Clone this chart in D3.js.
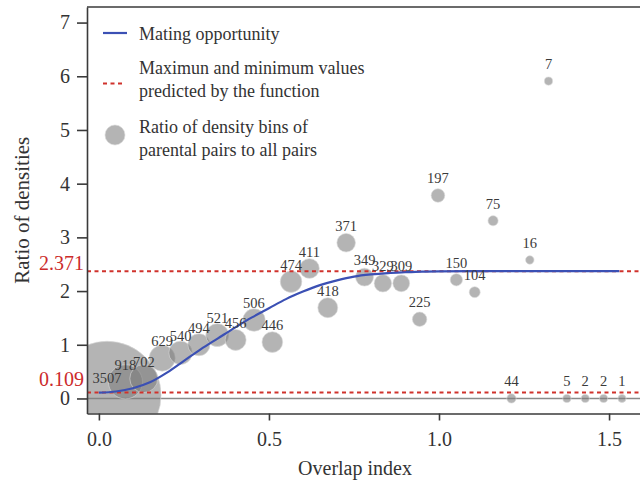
<!DOCTYPE html>
<html>
<head>
<meta charset="utf-8">
<script src="https://cdn.jsdelivr.net/npm/d3@7"></script>
<style>
  html, body { margin: 0; padding: 0; background: #fff; }
  svg { display: block; }
  text { font-family: "Liberation Serif", "Times New Roman", serif; }
</style>
</head>
<body>
<script>
// ---- data ----
const binOverlap = [0.024, 0.078, 0.132, 0.186, 0.240, 0.294, 0.348, 0.402, 0.456, 0.510,
  0.565, 0.619, 0.673, 0.727, 0.781, 0.835, 0.889, 0.943, 0.997, 1.051,
  1.105, 1.159, 1.213, 1.267, 1.322, 1.376, 1.430, 1.484, 1.538];
const binRatio = [0.06, 0.31, 0.37, 0.75, 0.85, 1.00, 1.18, 1.09, 1.46, 1.05,
  2.175, 2.42, 1.69, 2.90, 2.26, 2.145, 2.145, 1.475, 3.78, 2.21,
  1.98, 3.31, 0.0, 2.58, 5.91, 0.0, 0.0, 0.0, 0.0];
const binCount = [3507, 918, 702, 629, 540, 494, 521, 456, 506, 446,
  474, 411, 418, 371, 349, 329, 309, 225, 197, 150,
  104, 75, 44, 16, 7, 5, 2, 2, 1];

const curveX = [0.00, 0.05, 0.10, 0.15, 0.20, 0.25, 0.30, 0.35, 0.40, 0.45, 0.50, 0.55,
  0.60, 0.65, 0.70, 0.75, 0.80, 0.85, 0.90, 0.95, 1.00, 1.10, 1.20, 1.53];
const curveY = [0.109, 0.13, 0.19, 0.30, 0.48, 0.70, 0.92, 1.12, 1.32, 1.51, 1.68, 1.85,
  1.99, 2.11, 2.20, 2.27, 2.31, 2.335, 2.35, 2.362, 2.367, 2.370, 2.371, 2.371];

const maxValue = 2.371;
const minValue = 0.109;

const xTicks = [0, 0.5, 1.0, 1.5];
const yTicks = [0, 1, 2, 3, 4, 5, 6, 7];

const legendLabels = [
  ["Mating opportunity"],
  ["Maximun and minimum values", "predicted by the function"],
  ["Ratio of density bins of", "parental pairs to all pairs"]
];
const xTitle = "Overlap index";
const yTitle = "Ratio of densities";

// ---- drawing ----
const W = 640, H = 483;
const L = 87, R = 640, T = 7, B = 413.5;

const svg = d3.select("body").append("svg").attr("width", W).attr("height", H);

const x = d3.scaleLinear().domain([-0.035, 1.591]).range([L, R]);
const y = d3.scaleLinear().domain([-0.28, 7.29]).range([B, T]);
const rScale = d3.scaleLinear().domain([1, 3507]).range([4, 54]);

svg.append("defs").append("clipPath").attr("id", "plotclip")
  .append("rect").attr("x", L).attr("y", T).attr("width", R - L + 20).attr("height", B - T);

const plot = svg.append("g").attr("clip-path", "url(#plotclip)");

// zero reference line
plot.append("line")
  .attr("x1", L).attr("x2", R + 10)
  .attr("y1", y(0)).attr("y2", y(0))
  .attr("stroke", "#8a8a8a").attr("stroke-width", 1.6);

const points = binOverlap.map((v, i) => ({ x: v, y: binRatio[i], n: binCount[i] }));

// bubbles
plot.append("g").selectAll("circle").data(points).join("circle")
  .attr("cx", d => x(d.x)).attr("cy", d => y(d.y)).attr("r", d => rScale(d.n))
  .attr("fill", "#7d7d7d").attr("fill-opacity", 0.58)
  .attr("stroke", "#d8d8d8").attr("stroke-opacity", 0.6).attr("stroke-width", 1);

// dashed max/min lines
[maxValue, minValue].forEach(v => {
  plot.append("line")
    .attr("x1", L).attr("x2", R + 10)
    .attr("y1", y(v)).attr("y2", y(v))
    .attr("stroke", "#d0322c").attr("stroke-width", 2)
    .attr("stroke-dasharray", "4,3.5");
});

// fitted curve
const line = d3.line().x(d => x(d[0])).y(d => y(d[1])).curve(d3.curveMonotoneX);
plot.append("path")
  .datum(curveX.map((v, i) => [v, curveY[i]]))
  .attr("d", line)
  .attr("fill", "none").attr("stroke", "#3b50b4").attr("stroke-width", 2.2);

// point labels
svg.append("g").selectAll("text").data(points).join("text")
  .attr("x", d => x(d.x)).attr("y", d => y(d.y) - 12)
  .attr("text-anchor", "middle")
  .attr("font-size", 14.5).attr("fill", "#3a3a3a")
  .text(d => d.n);

// axes
const yAxis = svg.append("g").attr("transform", `translate(${L},0)`)
  .call(d3.axisLeft(y).tickValues(yTicks).tickFormat(d3.format("d")).tickSize(10).tickSizeOuter(0).tickPadding(7));
const xAxis = svg.append("g").attr("transform", `translate(0,${B})`)
  .call(d3.axisBottom(x).tickValues(xTicks).tickFormat(d3.format(".1f")).tickSize(7).tickSizeOuter(0).tickPadding(11));
[yAxis, xAxis].forEach(a => {
  a.selectAll("path.domain").attr("stroke", "#3a3a3a").attr("stroke-width", 1.6);
  a.selectAll(".tick line").attr("stroke", "#3a3a3a").attr("stroke-width", 1.6);
  a.selectAll(".tick text").attr("font-size", 20).attr("fill", "#333")
    .attr("font-family", "Liberation Serif, serif");
});
// top border
svg.append("line").attr("x1", L).attr("x2", R).attr("y1", T).attr("y2", T)
  .attr("stroke", "#3a3a3a").attr("stroke-width", 1.6);

// red value annotations
svg.append("text").attr("x", 84).attr("y", y(maxValue) - 1)
  .attr("text-anchor", "end").attr("font-size", 20).attr("fill", "#cc2b2b")
  .text(maxValue.toFixed(3));
svg.append("text").attr("x", 84).attr("y", y(minValue) - 7)
  .attr("text-anchor", "end").attr("font-size", 20).attr("fill", "#cc2b2b")
  .text(minValue.toFixed(3));

// axis titles
svg.append("text").attr("x", 355).attr("y", 475)
  .attr("text-anchor", "middle").attr("font-size", 20).attr("fill", "#333")
  .text(xTitle);
svg.append("text").attr("transform", `translate(29,${(T + B) / 2}) rotate(-90)`)
  .attr("text-anchor", "middle").attr("font-size", 21).attr("fill", "#333")
  .text(yTitle);

// legend
const lg = svg.append("g");
lg.append("line").attr("x1", 103).attr("x2", 127).attr("y1", 33).attr("y2", 33)
  .attr("stroke", "#3b50b4").attr("stroke-width", 2.2);
lg.append("line").attr("x1", 103).attr("x2", 125).attr("y1", 83.5).attr("y2", 83.5)
  .attr("stroke", "#d0322c").attr("stroke-width", 2).attr("stroke-dasharray", "4,3.5");
lg.append("circle").attr("cx", 115).attr("cy", 135).attr("r", 10)
  .attr("fill", "#7d7d7d").attr("fill-opacity", 0.58)
  .attr("stroke", "#d8d8d8").attr("stroke-opacity", 0.6);
const legendBaselines = [[39.5], [74, 96.5], [133, 155.5]];
legendLabels.forEach((lines, i) => {
  lines.forEach((t, j) => {
    lg.append("text").attr("x", 139).attr("y", legendBaselines[i][j])
      .attr("font-size", 18).attr("fill", "#333").text(t);
  });
});
</script>
</body>
</html>
